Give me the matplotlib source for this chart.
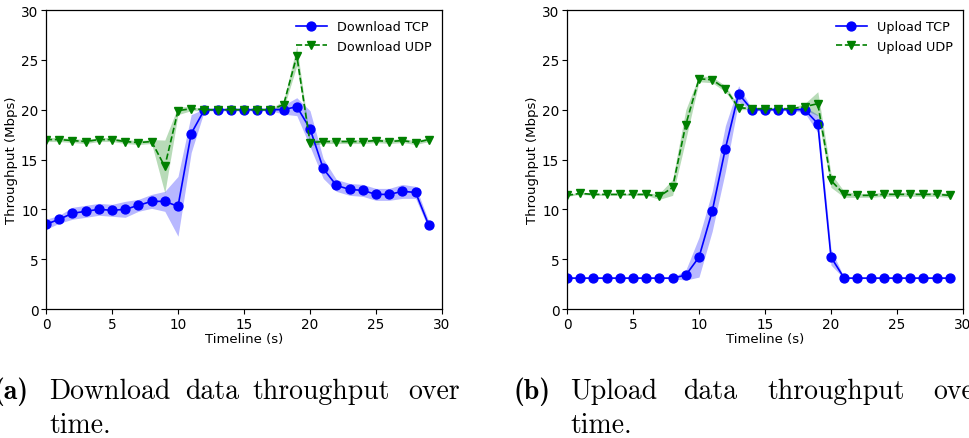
import matplotlib
matplotlib.use("Agg")
import matplotlib.pyplot as plt
import numpy as np

# Time axis (seconds)
timeline = list(range(30))

# Download throughput (Mbps): mean and spread
download_tcp = [8.5, 9.0, 9.6, 9.8, 10.0, 9.9, 10.0, 10.4, 10.8, 10.8,
                10.3, 17.6, 20.0, 20.0, 20.0, 20.0, 20.0, 20.0, 20.0, 20.3,
                18.1, 14.1, 12.4, 12.0, 11.9, 11.5, 11.5, 11.8, 11.7, 8.4]
download_tcp_sd = [0.5, 0.4, 0.6, 0.6, 0.6, 0.6, 0.8, 0.6, 0.7, 1.0,
                   3.0, 1.9, 0.1, 0.1, 0.1, 0.1, 0.1, 0.1, 0.45, 0.9,
                   1.8, 1.0, 0.6, 0.6, 0.6, 0.6, 0.6, 0.7, 0.6, 0.4]
download_udp = [17.0, 17.0, 16.9, 16.8, 17.0, 17.0, 16.8, 16.7, 16.8, 14.3,
                19.9, 20.1, 20.0, 20.0, 20.0, 20.0, 20.0, 20.0, 20.5, 25.4,
                16.7, 16.8, 16.8, 16.8, 16.8, 16.9, 16.8, 16.9, 16.7, 17.0]
download_udp_sd = [0.2, 0.2, 0.2, 0.2, 0.2, 0.2, 0.2, 0.2, 0.2, 2.65,
                   0.4, 0.2, 0.1, 0.1, 0.1, 0.1, 0.1, 0.1, 0.4, 1.0,
                   0.3, 0.2, 0.2, 0.2, 0.2, 0.2, 0.2, 0.2, 0.2, 0.2]

# Upload throughput (Mbps): mean and spread
upload_tcp = [3.1, 3.1, 3.1, 3.1, 3.1, 3.1, 3.1, 3.1, 3.1, 3.4,
              5.2, 9.8, 16.1, 21.6, 20.0, 20.0, 20.0, 20.0, 20.0, 18.6,
              5.2, 3.1, 3.1, 3.1, 3.1, 3.1, 3.1, 3.1, 3.1, 3.1]
upload_tcp_sd = [0.05, 0.05, 0.05, 0.05, 0.05, 0.05, 0.05, 0.05, 0.05, 0.5,
                 2.0, 2.0, 2.3, 0.8, 0.1, 0.1, 0.1, 0.1, 0.3, 0.9,
                 0.8, 0.05, 0.05, 0.05, 0.05, 0.05, 0.05, 0.05, 0.05, 0.05]
upload_udp = [11.4, 11.6, 11.5, 11.5, 11.5, 11.5, 11.5, 11.3, 12.2, 18.5,
              23.1, 23.0, 22.1, 20.2, 20.1, 20.1, 20.1, 20.1, 20.3, 20.6,
              12.9, 11.5, 11.4, 11.4, 11.5, 11.5, 11.5, 11.5, 11.5, 11.4]
upload_udp_sd = [0.1, 0.1, 0.1, 0.1, 0.1, 0.1, 0.1, 0.3, 0.8, 1.5,
                 0.3, 0.3, 0.3, 0.2, 0.1, 0.1, 0.1, 0.1, 0.3, 1.2,
                 0.7, 0.3, 0.2, 0.2, 0.2, 0.2, 0.2, 0.2, 0.2, 0.2]

W, H = 969, 439
fig = plt.figure(figsize=(W / 100, H / 100), dpi=100)

TICK_FS = 9.8
LABEL_FS = 9.5
LEG_FS = 9.2


def panel(left_px, tcp, tcp_sd, udp, udp_sd, tcp_label, udp_label):
    ax = fig.add_axes([left_px / W, (H - 310) / H, 396 / W, 299 / H])
    x = np.array(timeline)
    tcp = np.array(tcp); tcp_sd = np.array(tcp_sd)
    udp = np.array(udp); udp_sd = np.array(udp_sd)
    ax.fill_between(x, tcp - tcp_sd, tcp + tcp_sd, color="blue", alpha=0.28, linewidth=0)
    ax.fill_between(x, udp - udp_sd, udp + udp_sd, color="green", alpha=0.28, linewidth=0)
    ax.plot(x, tcp, "b-", marker="o", markersize=6.4, linewidth=1.2, label=tcp_label)
    ax.plot(x, udp, "g--", marker="v", markersize=6.4, linewidth=1.2, label=udp_label)
    ax.set_xlim(0, 30)
    ax.set_ylim(0, 30)
    ax.set_xticks([0, 5, 10, 15, 20, 25, 30])
    ax.set_yticks([0, 5, 10, 15, 20, 25, 30])
    ax.tick_params(labelsize=TICK_FS, length=3.5, width=0.8, pad=2)
    ax.set_xlabel("Timeline (s)", fontsize=LABEL_FS, labelpad=1)
    ax.set_ylabel("Throughput (Mbps)", fontsize=LABEL_FS, labelpad=2)
    ax.legend(loc="upper right", frameon=False, fontsize=LEG_FS,
              handlelength=2.4, handletextpad=0.8, numpoints=1,
              borderaxespad=0.4)
    for s in ax.spines.values():
        s.set_linewidth(0.9)
    return ax


panel(46, download_tcp, download_tcp_sd, download_udp, download_udp_sd,
      "Download TCP", "Download UDP")
panel(567, upload_tcp, upload_tcp_sd, upload_udp, upload_udp_sd,
      "Upload TCP", "Upload UDP")

# Sub-figure captions, set word by word in a Computer Modern face
CAP_FS = 20


def word(xp, yp, s, bold=False):
    fig.text(xp / W, (H - yp) / H, s, fontsize=CAP_FS,
             family="cmb10" if bold else "cmr10", ha="left", va="baseline")


word(-6, 399, "(a)", bold=True)
for xp, s in [(49, "Download"), (185, "data"), (252, "throughput"), (408, "over")]:
    word(xp, 399, s)
word(49, 433, "time.")

word(513, 399, "(b)", bold=True)
for xp, s in [(570, "Upload"), (683, "data"), (767, "throughput"), (933, "over")]:
    word(xp, 399, s)
word(570, 433, "time.")

fig.savefig("out.png", dpi=100)
